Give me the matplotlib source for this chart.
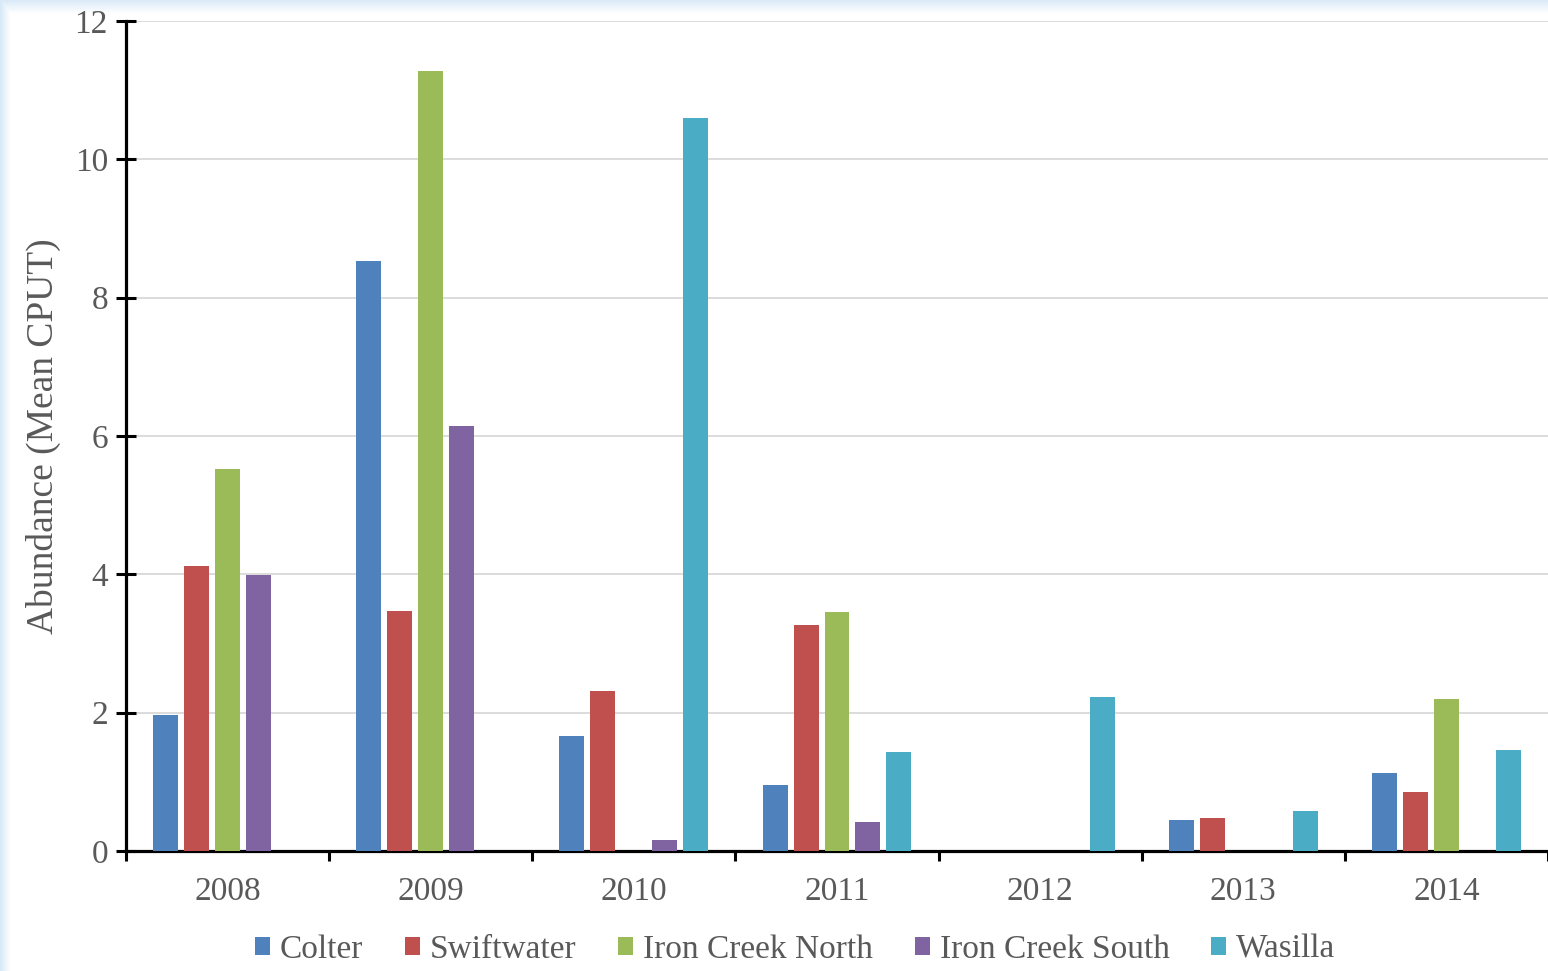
import numpy as np
import matplotlib
matplotlib.use('Agg')
import matplotlib.pyplot as plt
from matplotlib.patches import Patch

# ── Data ──────────────────────────────────────────────────────────────────────
years = ['2008', '2009', '2010', '2011', '2012', '2013', '2014']
sites = ['Colter', 'Swiftwater', 'Iron Creek North', 'Iron Creek South', 'Wasilla']
colter      = [1.97, 8.53, 1.66, 0.95, 0.00, 0.45, 1.13]
swiftwater  = [4.12, 3.47, 2.31, 3.27, 0.00, 0.48, 0.85]
iron_north  = [5.52, 11.28, 0.00, 3.46, 0.00, 0.00, 2.20]
iron_south  = [3.99, 6.14, 0.16, 0.42, 0.00, 0.00, 0.00]
wasilla     = [0.00, 0.00, 10.60, 1.43, 2.23, 0.58, 1.46]
colors = ['#4F81BD', '#C0504D', '#9BBB59', '#8064A2', '#4BACC6']

series = [colter, swiftwater, iron_north, iron_south, wasilla]

plt.rcParams['font.family'] = ['Liberation Serif', 'DejaVu Serif']
txt = '#595959'

fig = plt.figure(figsize=(15.48, 9.71), dpi=100, facecolor='white')

# ── Slide background (faint blue edge) ───────────────────────────────────────
bg = fig.add_axes([0, 0, 1, 1], zorder=-10)
bg.set_axis_off()
h, w = 971, 1548
yy = np.arange(h)[:, None]
xx = np.arange(w)[None, :]
top = np.clip(1 - yy / 14.0, 0, 1)
left = np.clip(1 - xx / 10.0, 0, 1)
a = np.maximum(top, left) * 0.55
img = np.ones((h, w, 3))
blue = np.array([0.72, 0.84, 0.95])
img = img * (1 - a[..., None]) + blue * a[..., None]
bg.imshow(img, aspect='auto', extent=[0, 1, 0, 1], origin='upper')
bg.set_xlim(0, 1)
bg.set_ylim(0, 1)

# ── Bars ──────────────────────────────────────────────────────────────────────
ax = fig.add_axes([126 / 1548, 1 - 851 / 971, 1 - 126 / 1548, (851 - 21) / 971])
ax.set_facecolor('none')
x = np.arange(len(years))
step = 0.1525
bw = 0.123
for i, (vals, c) in enumerate(zip(series, colors)):
    ax.bar(x + (i - 2) * step, vals, width=bw, color=c, zorder=3)

ax.set_xlim(-0.5, len(years) - 0.5)
ax.set_ylim(0, 12)
ax.set_yticks(np.arange(0, 13, 2))
ax.set_xticks(x)
ax.set_xticklabels(years)
ax.set_xticks(np.arange(-0.5, len(years)), minor=True)
ax.yaxis.grid(True, color='#d9d9d9', linewidth=1.3, zorder=0)

for s in ['top', 'right']:
    ax.spines[s].set_visible(False)
for s in ['left', 'bottom']:
    ax.spines[s].set_linewidth(2.3)
    ax.spines[s].set_color('black')

ax.tick_params(axis='y', direction='inout', length=14, width=2.2, color='black',
               labelsize=24, labelcolor=txt, pad=6)
ax.tick_params(axis='x', which='major', length=0, labelsize=24, labelcolor=txt, pad=18)
ax.tick_params(axis='x', which='minor', direction='out', length=7, width=2.2, color='black')

ax.set_ylabel('Abundance (Mean CPUT)', fontsize=27, color=txt, labelpad=10)

# ── Legend ────────────────────────────────────────────────────────────────────
handles = [Patch(facecolor=c, edgecolor='none') for c in colors]
fig.legend(handles, sites, loc='center', bbox_to_anchor=(0.5136, 0.022), ncol=5,
           frameon=False, fontsize=24, handlelength=0.45, handleheight=0.45,
           handletextpad=0.3, columnspacing=1.25, labelcolor=txt,
           borderpad=0.1)

plt.savefig('out.png', dpi=100, facecolor='white')
